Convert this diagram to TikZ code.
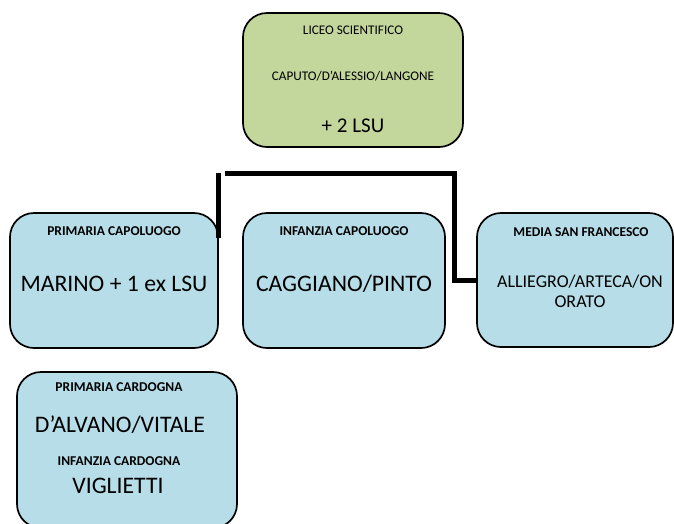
\documentclass[tikz,border=0pt]{standalone}
\usepackage{fontspec}
\setmainfont{Carlito}
\usetikzlibrary{positioning}

\definecolor{boxgreen}{HTML}{C3D69B}
\definecolor{boxblue}{HTML}{B7DEE8}

\begin{document}
\begin{tikzpicture}[x=1pt,y=-1pt,line width=1.7pt]
  \tikzstyle{school}=[draw=black,fill=boxblue,rounded corners=24pt,inner sep=0pt]
  \tikzstyle{head}=[font=\bfseries\fontsize{13.5}{16}\selectfont,inner sep=0pt]
  \tikzstyle{small}=[font=\fontsize{13.2}{16}\selectfont,inner sep=0pt]
  \tikzstyle{big}=[font=\fontsize{23.7}{28}\selectfont,inner sep=0pt]
  \tikzstyle{mid}=[font=\fontsize{18}{20}\selectfont,inner sep=0pt,align=center]
  \tikzstyle{link}=[line width=5pt]

  \clip (0,0) rectangle (674,523);

  % boxes
  \node[school,fill=boxgreen,minimum width=220pt,minimum height=134pt] (liceo) at (353,80) {};
  \node[school,minimum width=208pt,minimum height=135pt] (prim) at (114,280.5) {};
  \node[school,minimum width=202pt,minimum height=135pt] (inf) at (344,280.5) {};
  \node[school,minimum width=196pt,minimum height=134pt] (media) at (575,280) {};
  \node[school,minimum width=220pt,minimum height=156pt] (card) at (127,450) {};

  % texts
  \node[small] (liceohead) at (353,30) {LICEO SCIENTIFICO};
  \node[small] (liceonames) at (353,76) {CAPUTO/D’ALESSIO/LANGONE};
  \node[mid,font=\fontsize{21}{25}\selectfont] (liceolsu) at (353,126) {+ 2 LSU};

  \node[head] (primhead) at (114,231) {PRIMARIA CAPOLUOGO};
  \node[big] (primnames) at (114,284) {MARINO + 1 ex LSU};

  \node[head] (infhead) at (344,231) {INFANZIA CAPOLUOGO};
  \node[big] (infnames) at (344,284) {CAGGIANO/PINTO};

  \node[head] (mediahead) at (581,232) {MEDIA SAN FRANCESCO};
  \node[mid] (medianames) at (580,291) {ALLIEGRO/ARTECA/ON\\ORATO};

  \node[head] (cardhead) at (119,387) {PRIMARIA CARDOGNA};
  \node[big] (cardnames) at (120,425) {D’ALVANO/VITALE};
  \node[head] (cardinf) at (119,461) {INFANZIA CARDOGNA};
  \node[big] (cardvig) at (118,486) {VIGLIETTI};

  % connector
  \coordinate (pin) at (218,238);
  \coordinate (ptop) at (218,173);
  \coordinate (hstart) at (225,173);
  \coordinate (hturn) at (454,173);
  \draw[link] (pin) -- (ptop);
  \draw[link] (hstart) -- (hturn) |- (media.west);
\end{tikzpicture}
\end{document}
